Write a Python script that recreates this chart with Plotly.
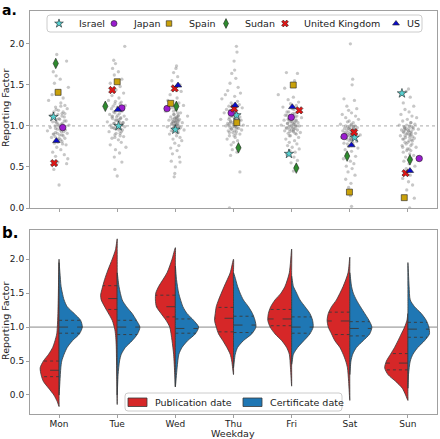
import numpy as np
import plotly.graph_objects as go

DAYS = ["Mon", "Tue", "Wed", "Thu", "Fri", "Sat", "Sun"]

# ---- Panel a: country reporting factors (value per weekday, jitter offset) ----
ISRAEL_Y = [1.11, 1.00, 0.955, 1.13, 0.66, 0.858, 1.397]
ISRAEL_DX = [-0.097, 0.023, 0.0, 0.051, -0.046, 0.085, -0.103]
JAPAN_Y = [0.98, 1.219, 1.211, 1.158, 1.105, 0.870, 0.603]
JAPAN_DX = [0.063, 0.08, -0.143, -0.04, -0.006, -0.097, 0.194]
SPAIN_Y = [1.409, 1.538, 1.275, 1.04, 1.498, 0.194, 0.126]
SPAIN_DX = [-0.017, 0.0, -0.08, 0.057, 0.028, -0.006, -0.063]
SUDAN_Y = [1.761, 1.239, 1.239, 0.733, 0.486, 0.632, 0.587]
SUDAN_DX = [-0.057, -0.205, 0.017, 0.085, 0.080, -0.046, 0.034]
UK_Y = [0.547, 1.437, 1.457, 1.211, 1.19, 0.923, 0.425]
UK_DX = [-0.085, -0.085, -0.011, 0.011, 0.131, 0.074, -0.04]
US_Y = [0.818, 1.198, 1.494, 1.251, 1.231, 0.765, 0.453]
US_DX = [-0.046, 0.011, 0.046, 0.028, 0.011, 0.028, 0.034]

# all-country cloud (grey points), per weekday: spread and dense core
GRAY_Y_MON = [1.87,1.79,1.66,1.61,1.57,1.52,1.47,1.43,1.38,1.34,1.31,1.28,1.25,1.23,1.21,1.19,1.17,1.15,1.13,1.11,1.09,1.08,1.06,1.05,1.03,1.02,1.01,1.00,0.99,0.98,0.97,0.96,0.95,0.94,0.93,0.92,0.91,0.90,0.89,0.88,0.86,0.85,0.83,0.81,0.79,0.77,0.74,0.71,0.68,0.65,0.63,0.60,0.56,0.54,0.47,0.28]
GRAY_DX_MON = [-0.04,0.13,-0.10,-0.05,0.02,-0.08,0.16,-0.02,-0.12,0.07,-0.18,0.03,0.10,-0.06,0.14,-0.01,-0.09,0.05,-0.14,0.09,0.00,-0.04,0.12,-0.11,0.06,-0.02,0.17,-0.07,0.02,-0.15,0.08,-0.03,0.11,-0.20,0.04,-0.06,0.14,-0.10,0.01,0.07,-0.13,0.10,-0.01,0.05,-0.08,0.12,-0.04,0.03,-0.11,0.09,-0.06,0.15,-0.02,0.13,-0.09,0.00]
CORE_Y_MON = [1.24,1.20,1.17,1.14,1.12,1.10,1.08,1.06,1.04,1.02,1.00,0.99,0.97,0.95,0.93,0.91,0.89,0.87,0.85,0.83,0.80,0.78,0.90,1.05,1.15]
CORE_DX_MON = [0.03,-0.05,0.07,-0.02,0.05,-0.08,0.01,0.09,-0.04,0.04,-0.01,0.06,-0.06,0.02,0.08,-0.03,0.05,-0.07,0.00,0.03,-0.02,0.06,-0.09,-0.06,0.10]
GRAY_Y_TUE = [1.97,1.80,1.76,1.70,1.66,1.62,1.57,1.52,1.48,1.44,1.40,1.37,1.34,1.31,1.29,1.27,1.25,1.23,1.21,1.19,1.17,1.15,1.14,1.12,1.11,1.10,1.09,1.08,1.07,1.06,1.05,1.04,1.03,1.02,1.01,1.00,0.99,0.98,0.97,0.96,0.95,0.93,0.91,0.89,0.87,0.85,0.83,0.80,0.77,0.74,0.71,0.67,0.62,0.56,0.47,0.39]
GRAY_DX_TUE = [0.13,-0.06,-0.03,-0.08,0.02,-0.05,0.08,-0.12,0.05,-0.02,0.11,-0.09,0.03,-0.15,0.07,-0.04,0.14,0.00,-0.10,0.09,-0.06,0.04,-0.13,0.12,-0.01,0.06,-0.08,0.16,-0.03,0.02,-0.17,0.10,-0.05,0.07,-0.11,0.01,0.13,-0.07,0.04,-0.02,0.09,-0.14,0.05,-0.04,0.11,-0.09,0.02,0.07,-0.12,0.15,-0.03,0.04,-0.05,0.08,-0.04,0.00]
CORE_Y_TUE = [1.30,1.27,1.24,1.21,1.18,1.16,1.13,1.11,1.09,1.07,1.05,1.03,1.01,0.99,0.97,0.95,0.93,0.91,0.88,1.12,1.04,0.98,1.20,1.08,0.86]
CORE_DX_TUE = [-0.03,0.05,-0.07,0.02,0.08,-0.04,0.01,-0.09,0.06,-0.01,0.04,-0.06,0.09,0.00,-0.05,0.03,0.07,-0.02,0.05,-0.08,0.10,-0.10,0.01,0.03,-0.04]
GRAY_Y_WED = [1.73,1.70,1.65,1.60,1.55,1.50,1.46,1.42,1.38,1.34,1.31,1.28,1.25,1.22,1.20,1.18,1.16,1.14,1.13,1.12,1.11,1.10,1.09,1.08,1.07,1.06,1.05,1.05,1.04,1.03,1.02,1.01,1.00,0.99,0.98,0.97,0.96,0.95,0.94,0.92,0.90,0.88,0.86,0.84,0.82,0.79,0.76,0.73,0.70,0.66,0.62,0.57,0.56,0.50,0.42,0.38]
GRAY_DX_WED = [0.02,0.01,-0.03,0.04,-0.06,0.08,-0.02,0.10,-0.09,0.03,-0.13,0.06,0.14,-0.05,0.01,-0.17,0.09,-0.03,0.05,0.21,-0.08,0.02,-0.01,0.07,-0.11,0.04,0.00,-0.04,0.12,-0.06,0.03,-0.02,0.06,-0.14,0.09,-0.03,0.01,0.15,-0.07,0.05,-0.10,0.02,0.08,-0.04,0.11,-0.01,0.06,-0.08,0.03,-0.05,0.07,-0.07,0.08,0.00,-0.01,-0.02]
CORE_Y_WED = [1.20,1.18,1.16,1.14,1.12,1.10,1.09,1.08,1.07,1.06,1.05,1.04,1.03,1.02,1.01,1.00,0.99,0.98,0.97,0.96,0.94,1.11,1.06,1.01,0.92]
CORE_DX_WED = [0.01,-0.03,0.04,-0.02,0.05,-0.01,0.03,-0.05,0.02,0.06,-0.04,0.00,0.04,-0.06,0.02,-0.02,0.05,-0.03,0.01,0.06,-0.04,0.03,-0.01,0.00,0.02]
GRAY_Y_THU = [1.97,1.90,1.79,1.68,1.64,1.58,1.52,1.47,1.43,1.40,1.38,1.36,1.33,1.30,1.28,1.26,1.24,1.22,1.20,1.18,1.16,1.14,1.12,1.11,1.10,1.09,1.08,1.07,1.06,1.05,1.04,1.03,1.02,1.01,1.00,0.99,0.98,0.97,0.96,0.95,0.94,0.93,0.92,0.90,0.88,0.86,0.84,0.82,0.80,0.77,0.74,0.71,0.68,0.64,0.44,0.00]
GRAY_DX_THU = [0.05,0.06,0.01,0.02,-0.03,0.04,-0.06,0.08,-0.10,0.12,-0.14,0.02,-0.20,0.07,-0.04,0.10,-0.08,0.15,-0.12,0.01,-0.16,0.06,-0.02,0.11,-0.07,0.03,-0.22,0.13,-0.05,0.08,-0.01,-0.10,0.04,0.17,-0.13,0.02,-0.06,0.09,-0.03,0.14,-0.09,0.05,-0.01,0.11,-0.07,0.03,-0.11,0.07,0.00,-0.04,0.10,-0.02,0.06,-0.05,0.11,-0.07]
CORE_Y_THU = [1.25,1.22,1.19,1.16,1.14,1.12,1.10,1.08,1.06,1.05,1.04,1.02,1.01,1.00,0.99,0.98,0.96,0.94,0.92,0.90,1.07,1.03,0.97,1.13,0.88]
CORE_DX_THU = [-0.02,0.04,-0.06,0.01,0.07,-0.03,0.05,-0.08,0.02,-0.05,0.08,0.00,-0.09,0.03,-0.01,0.06,-0.04,0.02,-0.07,0.04,0.09,-0.06,0.05,-0.02,0.01]
GRAY_Y_FRI = [1.65,1.64,1.55,1.46,1.38,1.35,1.32,1.29,1.27,1.25,1.23,1.21,1.19,1.17,1.15,1.13,1.12,1.11,1.10,1.09,1.08,1.07,1.06,1.05,1.04,1.03,1.02,1.01,1.00,0.99,0.98,0.97,0.96,0.95,0.94,0.93,0.92,0.91,0.90,0.88,0.86,0.84,0.82,0.80,0.78,0.76,0.74,0.72,0.70,0.68,0.65,0.62,0.58,0.55,0.50,0.45]
GRAY_DX_FRI = [-0.09,0.10,0.05,-0.12,-0.23,0.03,-0.06,0.12,-0.02,0.08,-0.15,0.01,0.14,-0.08,0.05,-0.11,0.09,-0.03,0.17,-0.05,0.02,-0.13,0.07,-0.01,0.11,-0.07,0.04,-0.18,0.13,0.00,-0.09,0.06,-0.04,0.10,-0.12,0.03,0.15,-0.06,0.08,-0.02,0.12,-0.10,0.05,-0.04,0.09,-0.07,0.01,0.13,-0.03,0.06,-0.08,0.04,0.10,-0.01,0.07,0.03]
CORE_Y_FRI = [1.20,1.17,1.15,1.13,1.11,1.09,1.07,1.06,1.05,1.04,1.03,1.02,1.01,1.00,0.99,0.98,0.97,0.96,0.95,0.93,0.91,1.08,1.00,0.94,0.88]
CORE_DX_FRI = [0.04,-0.05,0.02,-0.08,0.06,-0.02,0.08,-0.04,0.01,0.05,-0.07,0.03,-0.01,0.07,-0.05,0.02,-0.09,0.04,0.00,-0.03,0.06,-0.06,0.09,0.03,-0.04]
GRAY_Y_SAT = [2.00,1.57,1.50,1.33,1.31,1.24,1.21,1.19,1.16,1.14,1.12,1.10,1.08,1.06,1.04,1.02,1.01,1.00,0.99,0.98,0.97,0.96,0.95,0.94,0.93,0.92,0.91,0.90,0.89,0.88,0.87,0.86,0.85,0.84,0.83,0.81,0.79,0.77,0.75,0.73,0.71,0.69,0.66,0.63,0.60,0.57,0.54,0.51,0.48,0.44,0.40,0.35,0.30,0.25,0.15,0.02]
GRAY_DX_SAT = [0.01,0.05,0.04,-0.10,0.08,-0.05,0.12,-0.02,0.03,-0.13,0.10,-0.07,0.15,-0.01,0.06,-0.16,0.02,0.09,-0.04,0.13,-0.09,0.00,0.07,-0.12,0.04,-0.03,0.11,-0.07,0.18,-0.01,0.05,-0.14,0.08,-0.05,0.02,0.12,-0.10,0.06,-0.02,0.14,-0.08,0.03,-0.05,0.10,-0.11,0.01,0.07,-0.06,0.04,-0.03,0.09,-0.07,0.02,-0.02,0.01,0.03]
CORE_Y_SAT = [1.05,1.02,1.00,0.99,0.98,0.97,0.96,0.95,0.94,0.93,0.92,0.91,0.90,0.89,0.88,0.86,0.84,0.82,0.80,0.78,0.76,0.95,0.90,0.85,0.99]
CORE_DX_SAT = [-0.04,0.03,-0.07,0.06,0.00,-0.02,0.08,-0.05,0.02,0.05,-0.08,0.01,0.04,-0.03,0.07,-0.06,0.02,-0.01,0.05,-0.04,0.03,0.09,-0.09,0.01,0.06]
GRAY_Y_SUN = [1.45,1.42,1.35,1.28,1.24,1.20,1.17,1.14,1.12,1.10,1.08,1.06,1.04,1.02,1.01,1.00,0.99,0.98,0.97,0.96,0.95,0.94,0.93,0.92,0.91,0.90,0.89,0.88,0.87,0.86,0.85,0.84,0.82,0.80,0.78,0.76,0.74,0.72,0.70,0.68,0.66,0.64,0.62,0.60,0.57,0.54,0.51,0.48,0.44,0.40,0.36,0.32,0.28,0.22,0.12,0.00]
GRAY_DX_SUN = [0.01,-0.03,0.04,-0.08,0.10,-0.05,0.02,-0.12,0.07,0.15,-0.01,-0.09,0.05,0.12,-0.15,0.03,-0.06,0.09,-0.03,0.18,-0.11,0.01,0.06,-0.07,0.13,-0.02,0.04,-0.13,0.08,-0.04,0.11,-0.09,0.02,-0.05,0.07,-0.10,0.14,-0.01,0.05,-0.08,0.03,0.10,-0.04,0.06,-0.07,0.02,0.12,-0.03,-0.06,0.04,-0.09,0.01,0.08,-0.02,0.11,0.03]
CORE_Y_SUN = [1.04,1.01,0.99,0.98,0.97,0.96,0.95,0.94,0.93,0.92,0.91,0.90,0.88,0.86,0.84,0.82,0.80,0.78,0.76,0.74,0.72,0.96,0.89,0.83,0.70]
CORE_DX_SUN = [0.05,-0.02,0.07,-0.06,0.02,0.09,-0.04,0.01,-0.08,0.04,-0.01,0.06,-0.05,0.03,-0.07,0.08,0.00,-0.03,0.05,-0.09,0.02,-0.06,0.03,0.06,-0.02]

# ---- Panel b: density profiles (value, half-width) of split violins ----
PUB_MON = [(-0.17,0),(-0.1,0.03),(0.0,0.09),(0.1,0.18),(0.2,0.27),(0.3,0.31),(0.4,0.325),(0.5,0.27),(0.6,0.18),(0.7,0.11),(0.8,0.07),(0.9,0.04),(1.0,0.03),(1.2,0.02),(1.5,0.012),(1.8,0.006),(2.0,0)]
PUB_TUE = [(-0.14,0),(0.2,0.006),(0.5,0.012),(0.71,0.016),(0.85,0.025),(0.96,0.04),(1.1,0.086),(1.25,0.183),(1.4,0.275),(1.47,0.285),(1.55,0.265),(1.7,0.217),(1.84,0.16),(2.0,0.086),(2.14,0.03),(2.3,0)]
PUB_WED = [(0.12,0),(0.3,0.01),(0.6,0.03),(0.8,0.057),(1.0,0.097),(1.1,0.16),(1.2,0.246),(1.3,0.326),(1.4,0.343),(1.5,0.337),(1.6,0.286),(1.8,0.143),(2.0,0.057),(2.17,0)]
PUB_THU = [(0.3,0),(0.5,0.03),(0.6,0.057),(0.7,0.114),(0.8,0.183),(0.9,0.257),(1.0,0.297),(1.1,0.326),(1.2,0.314),(1.3,0.297),(1.4,0.257),(1.6,0.16),(1.8,0.057),(2.0,0)]
PUB_FRI = [(0.13,0),(0.4,0.02),(0.6,0.04),(0.7,0.086),(0.8,0.17),(0.9,0.286),(1.0,0.37),(1.1,0.41),(1.2,0.4),(1.3,0.36),(1.4,0.286),(1.5,0.183),(1.6,0.114),(1.8,0.04),(2.15,0)]
PUB_SAT = [(-0.08,0),(0.2,0.02),(0.4,0.04),(0.5,0.07),(0.6,0.114),(0.7,0.17),(0.8,0.257),(0.9,0.314),(1.0,0.37),(1.1,0.39),(1.2,0.37),(1.3,0.314),(1.4,0.23),(1.6,0.114),(1.8,0.03),(2.03,0)]
PUB_SUN = [(-0.08,0),(0.0,0.04),(0.1,0.097),(0.2,0.21),(0.3,0.343),(0.4,0.4),(0.5,0.37),(0.6,0.30),(0.7,0.23),(0.8,0.17),(0.9,0.114),(1.0,0.057),(1.1,0.017),(1.2,0)]

CERT_MON = [(0.0,0),(0.2,0.015),(0.4,0.03),(0.5,0.046),(0.6,0.086),(0.7,0.14),(0.8,0.23),(0.9,0.35),(1.0,0.40),(1.1,0.37),(1.2,0.26),(1.3,0.14),(1.4,0.086),(1.5,0.057),(1.6,0.034),(1.8,0.015),(1.95,0)]
CERT_TUE = [(0.0,0),(0.3,0.015),(0.5,0.04),(0.6,0.07),(0.7,0.14),(0.8,0.257),(0.9,0.35),(1.0,0.39),(1.1,0.33),(1.2,0.257),(1.3,0.16),(1.4,0.086),(1.6,0.03),(1.8,0)]
CERT_WED = [(0.12,0),(0.4,0.03),(0.6,0.06),(0.7,0.114),(0.8,0.211),(0.9,0.343),(1.0,0.40),(1.1,0.314),(1.2,0.2),(1.3,0.13),(1.5,0.057),(1.7,0.02),(1.9,0)]
CERT_THU = [(0.4,0),(0.6,0.03),(0.7,0.07),(0.8,0.17),(0.9,0.314),(1.0,0.386),(1.1,0.37),(1.2,0.326),(1.3,0.257),(1.4,0.17),(1.5,0.114),(1.6,0.07),(1.8,0)]
CERT_FRI = [(0.45,0),(0.5,0.01),(0.6,0.03),(0.7,0.103),(0.8,0.21),(0.9,0.314),(1.0,0.37),(1.1,0.36),(1.2,0.314),(1.3,0.23),(1.4,0.143),(1.5,0.086),(1.6,0.03),(1.75,0)]
CERT_SAT = [(0.3,0),(0.5,0.02),(0.6,0.05),(0.7,0.114),(0.8,0.23),(0.9,0.343),(1.0,0.38),(1.1,0.33),(1.2,0.257),(1.3,0.183),(1.4,0.114),(1.5,0.06),(1.6,0.03),(1.8,0)]
CERT_SUN = [(0.1,0),(0.3,0.01),(0.5,0.04),(0.6,0.086),(0.7,0.17),(0.8,0.286),(0.9,0.37),(1.0,0.36),(1.1,0.314),(1.2,0.23),(1.3,0.114),(1.4,0.04),(1.6,0.02),(1.95,0)]

# quartiles (Q1, median, Q3)
PUB_Q = [(0.27,0.364,0.50),(1.26,1.42,1.61),(1.15,1.30,1.47),(0.93,1.13,1.29),(1.02,1.12,1.26),(0.89,1.09,1.22),(0.37,0.47,0.61)]
CERT_Q = [(0.91,1.0,1.10),(0.89,1.0,1.10),(0.91,0.98,1.12),(0.92,1.03,1.16),(0.91,1.0,1.15),(0.87,0.98,1.08),(0.85,0.97,1.07)]

# ---------------- styles ----------------
FONT = "DejaVu Sans"
RED = "#d62728"
BLUE = "#1f77b4"
EDGE = "#3a3a3a"
AXC = "#a0a0a0"
TXT = "#222222"

COUNTRY_STYLE = [
    ("Israel", ISRAEL_Y, ISRAEL_DX, "star", "#57d0d0", 7),
    ("Japan", JAPAN_Y, JAPAN_DX, "circle", "#9a1ccf", 6.5),
    ("Spain", SPAIN_Y, SPAIN_DX, "square", "#c9a10a", 6),
    ("Sudan", SUDAN_Y, SUDAN_DX, "diamond-tall", "#2e8b2e", 7.5),
    ("United Kingdom", UK_Y, UK_DX, "x", "#e01515", 6.5),
    ("US", US_Y, US_DX, "triangle-up", "#0a0acc", 6.5),
]

# layout (pixels)
W, H = 440, 439
ML, MR, MT, MB = 30, 3, 11, 25
PW, PH = W - ML - MR, H - MT - MB
LEG_A_MARK_X = [59, 114, 169, 226, 285, 396]
LEG_A_TEXT_X = [77, 131, 187, 243, 302, 405]
LEG_A_Y = 23.5


def pxx(p):
    return (p - ML) / PW


def pxy(p):
    return (H - MB - p) / PH


fig = go.Figure()

# grey cloud
gray_y = [GRAY_Y_MON + CORE_Y_MON, GRAY_Y_TUE + CORE_Y_TUE, GRAY_Y_WED + CORE_Y_WED,
          GRAY_Y_THU + CORE_Y_THU, GRAY_Y_FRI + CORE_Y_FRI, GRAY_Y_SAT + CORE_Y_SAT,
          GRAY_Y_SUN + CORE_Y_SUN]
gray_dx = [GRAY_DX_MON + CORE_DX_MON, GRAY_DX_TUE + CORE_DX_TUE, GRAY_DX_WED + CORE_DX_WED,
           GRAY_DX_THU + CORE_DX_THU, GRAY_DX_FRI + CORE_DX_FRI, GRAY_DX_SAT + CORE_DX_SAT,
           GRAY_DX_SUN + CORE_DX_SUN]
gx, gy = [], []
for i in range(7):
    for yv, dx in zip(gray_y[i], gray_dx[i]):
        gx.append(i + dx)
        gy.append(yv)
fig.add_trace(go.Scatter(x=gx, y=gy, mode="markers", xaxis="x", yaxis="y",
                         marker=dict(size=3.3, color="rgba(115,115,115,0.40)", line=dict(width=0)),
                         showlegend=False, hoverinfo="skip"))

for name, ys, dxs, sym, col, sz in COUNTRY_STYLE:
    fig.add_trace(go.Scatter(x=[i + d for i, d in enumerate(dxs)], y=ys, mode="markers",
                             name=name, xaxis="x", yaxis="y", showlegend=False,
                             marker=dict(symbol=sym, size=sz, color=col,
                                         line=dict(width=0.6, color="#222"))))

# violins
pub = [PUB_MON, PUB_TUE, PUB_WED, PUB_THU, PUB_FRI, PUB_SAT, PUB_SUN]
cert = [CERT_MON, CERT_TUE, CERT_WED, CERT_THU, CERT_FRI, CERT_SAT, CERT_SUN]


def add_half(i, prof, sgn, color):
    ys = [p[0] for p in prof]
    ws = [p[1] for p in prof]
    px = [i + sgn * w for w in ws] + [i] * (len(ys) - 1)
    py = ys + ys[::-1][1:]
    fig.add_trace(go.Scatter(x=px, y=py, mode="lines", fill="toself", fillcolor=color,
                             line=dict(color=EDGE, width=0.8, shape="spline", smoothing=0.7),
                             showlegend=False, xaxis="x2", yaxis="y2", hoverinfo="skip"))


def add_quart(i, prof, q, sgn):
    ys = np.array([p[0] for p in prof])
    ws = np.array([p[1] for p in prof])
    for k, qv in enumerate(q):
        w = float(np.interp(qv, ys, ws))
        fig.add_trace(go.Scatter(x=[i, i + sgn * w], y=[qv, qv], mode="lines",
                                 line=dict(color=EDGE, width=0.9, dash="dash" if k == 1 else "dot"),
                                 showlegend=False, xaxis="x2", yaxis="y2", hoverinfo="skip"))


for i in range(7):
    add_half(i, pub[i], -1, RED)
    add_half(i, cert[i], 1, BLUE)
for i in range(7):
    add_quart(i, pub[i], PUB_Q[i], -1)
    add_quart(i, cert[i], CERT_Q[i], 1)

# ---- legends drawn on a pixel-coordinate overlay axis ----
for (name, ys, dxs, sym, col, sz), mx in zip(COUNTRY_STYLE, LEG_A_MARK_X):
    fig.add_trace(go.Scatter(x=[mx], y=[LEG_A_Y], mode="markers", xaxis="x3", yaxis="y3",
                             showlegend=False, hoverinfo="skip", cliponaxis=False,
                             marker=dict(symbol=sym, size=sz - 0.5, color=col,
                                         line=dict(width=0.6, color="#222"))))
for lab, col, px0 in [("Publication date", RED, 128), ("Certificate date", BLUE, 243)]:
    fig.add_trace(go.Scatter(x=[px0, px0 + 19, px0 + 19, px0, px0], y=[398, 398, 406.5, 406.5, 398],
                             mode="lines", fill="toself", fillcolor=col, xaxis="x3", yaxis="y3",
                             line=dict(color=EDGE, width=0.8), showlegend=False, hoverinfo="skip",
                             cliponaxis=False))


def rrect(x0, y0, x1, y1, r):
    return (f"M{x0+r},{y0} L{x1-r},{y0} Q{x1},{y0} {x1},{y0+r} L{x1},{y1-r} Q{x1},{y1} {x1-r},{y1} "
            f"L{x0+r},{y1} Q{x0},{y1} {x0},{y1-r} L{x0},{y0+r} Q{x0},{y0} {x0+r},{y0} Z")


def ann(text, x, y, **kw):
    d = dict(text=text, x=pxx(x), y=pxy(y), xref="paper", yref="paper", showarrow=False,
             xanchor="center", yanchor="middle", font=dict(family=FONT, size=9.5, color=TXT))
    d.update(kw)
    return d


annotations = []
for (name, *_), tx in zip(COUNTRY_STYLE, LEG_A_TEXT_X):
    annotations.append(ann(name, tx, LEG_A_Y, xanchor="left"))
for lab, tx in [("Publication date", 153), ("Certificate date", 268)]:
    annotations.append(ann(lab, tx, 402.5, xanchor="left"))
annotations += [
    ann("Reporting Factor", 5, 108, textangle=-90),
    ann("Reporting Factor", 5, 321, textangle=-90),
    ann("Weekday", 233, 433.5),
    ann("<b>a.</b>", 0, 0, xanchor="left", yanchor="top", font=dict(family=FONT, size=14, color="#000")),
    ann("<b>b.</b>", 0, 233, xanchor="left", font=dict(family=FONT, size=15, color="#000")),
]

axis_common = dict(showline=True, mirror=True, linecolor=AXC, linewidth=1, ticks="outside",
                   ticklen=3, tickcolor=AXC, showgrid=False, zeroline=False, automargin=False,
                   tickfont=dict(family=FONT, size=9, color=TXT))

fig.update_layout(
    width=W, height=H, template="none",
    margin=dict(l=ML, r=MR, t=MT, b=MB),
    paper_bgcolor="white", plot_bgcolor="rgba(0,0,0,0)",
    font=dict(family=FONT, size=9, color=TXT),
    showlegend=False,
    xaxis=dict(domain=[0, 1], anchor="y", range=[-0.5, 6.5], tickvals=list(range(7)),
               showticklabels=False, **axis_common),
    yaxis=dict(domain=[pxy(208), 1], anchor="x", range=[0, 2.4],
               tickvals=[0, 0.5, 1.0, 1.5, 2.0], tickformat=".1f", **axis_common),
    xaxis2=dict(domain=[0, 1], anchor="y2", range=[-0.5, 6.5], tickvals=list(range(7)), ticktext=DAYS,
                ticklabelstandoff=-2, **axis_common),
    yaxis2=dict(domain=[0, pxy(230)], anchor="x2", range=[-0.28, 2.43],
                tickvals=[0, 0.5, 1.0, 1.5, 2.0], tickformat=".1f", **axis_common),
    xaxis3=dict(domain=[0, 1], anchor="y3", range=[ML, W - MR], visible=False, fixedrange=True),
    yaxis3=dict(domain=[0, 1], anchor="x3", range=[H - MB, MT], visible=False, fixedrange=True),
    shapes=[
        dict(type="line", xref="x domain", yref="y", x0=0, x1=1, y0=1, y1=1,
             line=dict(color="#aaaaaa", width=1, dash="dot"), layer="below"),
        dict(type="line", xref="x2 domain", yref="y2", x0=0, x1=1, y0=1, y1=1,
             line=dict(color="#888888", width=1), layer="below"),
        dict(type="path", xref="x3", yref="y3", path=rrect(47, 15, 422, 32, 3),
             fillcolor="rgba(255,255,255,0.85)", line=dict(color="#cccccc", width=1), layer="below"),
        dict(type="path", xref="x3", yref="y3", path=rrect(125, 393, 342, 411, 3),
             fillcolor="rgba(255,255,255,0.85)", line=dict(color="#cccccc", width=1), layer="below"),
    ],
    annotations=annotations,
)

fig.write_html("out.html", config={"displayModeBar": False, "staticPlot": True},
               post_script="document.body.style.margin='0';")
